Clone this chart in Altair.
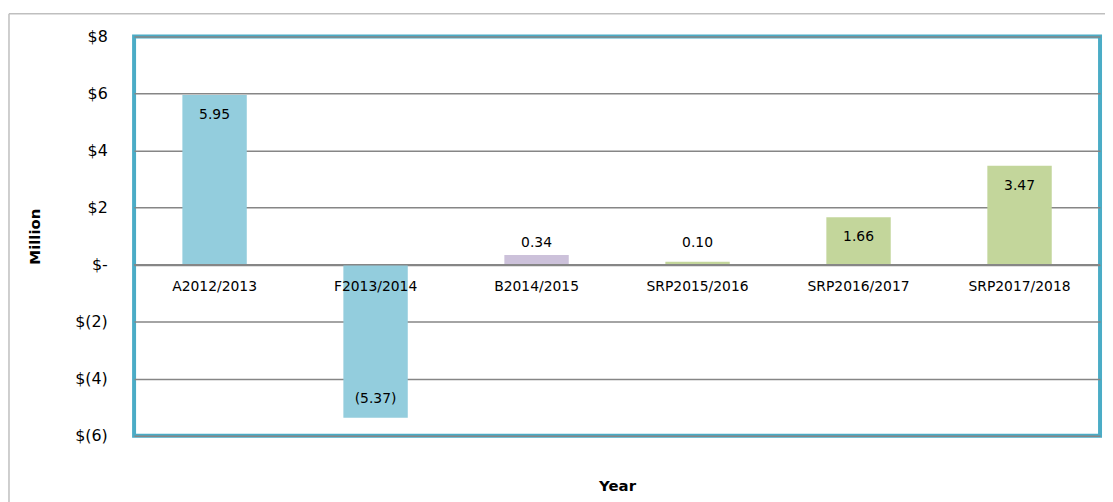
import altair as alt
import pandas as pd

categories = ["A2012/2013", "F2013/2014", "B2014/2015", "SRP2015/2016", "SRP2016/2017", "SRP2017/2018"]
values = [5.95, -5.37, 0.34, 0.10, 1.66, 3.47]
groups = ["Actual/Forecast", "Actual/Forecast", "Budget", "SRP", "SRP", "SRP"]
group_names = ["Actual/Forecast", "Budget", "SRP"]
group_colors = ["#93CDDD", "#CCC1DA", "#C3D69B"]
y_ticks = [-6, -4, -2, 0, 2, 4, 6, 8]

df = pd.DataFrame({"cat": categories, "v": values, "g": groups})

FONT = "DejaVu Sans"

x = alt.X("cat:N", sort=categories,
          scale=alt.Scale(paddingInner=0.6, paddingOuter=0.3),
          axis=alt.Axis(labels=False, ticks=False, domain=False, grid=False,
                        title="Year", titleFont=FONT, titleFontSize=15, titleFontWeight="bold",
                        titleColor="#000", titleY=50, titleBaseline="middle"))
y = alt.Y("v:Q", scale=alt.Scale(domain=[-6, 8], nice=False),
          axis=alt.Axis(values=y_ticks, ticks=False, domain=False, grid=True,
                        gridColor="#868686", gridWidth=1.5,
                        labelExpr="datum.value == 0 ? '$-' : (datum.value < 0 ? '$(' + (-datum.value) + ')' : '$' + datum.value)",
                        labelFont=FONT, labelFontSize=16, labelColor="#000", labelPadding=27,
                        title="Million", titleFont=FONT, titleFontSize=15, titleFontWeight="bold",
                        titleColor="#000", titleX=-100, titleY=201, titleAngle=-90,
                        titleBaseline="middle", titleAlign="center"))

base = alt.Chart(df)

bars = base.mark_bar().encode(
    x=x, y=y,
    color=alt.Color("g:N", scale=alt.Scale(domain=group_names, range=group_colors), legend=None),
)

label_expr = "datum.v < 0 ? '(' + format(-datum.v, '.2f') + ')' : format(datum.v, '.2f')"

big = base.transform_filter("datum.v >= 1").transform_calculate(lab=label_expr).mark_text(
    font=FONT, fontSize=14, color="#000", dy=20, baseline="middle"
).encode(x=alt.X("cat:N", sort=categories), y="v:Q", text="lab:N")

small = base.transform_filter("datum.v >= 0 && datum.v < 1").transform_calculate(lab=label_expr, zero="0").mark_text(
    font=FONT, fontSize=14, color="#000", dy=-22, baseline="middle"
).encode(x=alt.X("cat:N", sort=categories), y="zero:Q", text="lab:N")

neg = base.transform_filter("datum.v < 0").transform_calculate(lab=label_expr).mark_text(
    font=FONT, fontSize=14, color="#000", dy=-19, baseline="middle"
).encode(x=alt.X("cat:N", sort=categories), y="v:Q", text="lab:N")

cat_labels = base.transform_calculate(zero="0").mark_text(
    font=FONT, fontSize=14, color="#000", dy=23, baseline="middle"
).encode(x=alt.X("cat:N", sort=categories), y="zero:Q", text="cat:N")

zero_rule = alt.Chart(pd.DataFrame({"z": [0]})).mark_rule(color="#868686", strokeWidth=1.5).encode(y="z:Q")

outer_left = alt.Chart(pd.DataFrame({"a": [0]})).mark_rule(color="#BFBFBF", strokeWidth=1.5, clip=False).encode(
    x=alt.value(-126), y=alt.value(-23), y2=alt.value(480))
outer_top = alt.Chart(pd.DataFrame({"a": [0]})).mark_rule(color="#BFBFBF", strokeWidth=1.5, clip=False).encode(
    x=alt.value(-126), x2=alt.value(990), y=alt.value(-23))

chart = alt.layer(bars, zero_rule, big, small, neg, cat_labels, outer_left, outer_top).properties(
    width=973, height=402,
    autosize=alt.AutoSizeParams(type="none"),
    padding={"left": 127, "top": 27, "right": 5, "bottom": 65},
).configure(background="white").configure_view(stroke="#4BACC6", strokeWidth=4)

chart.save("out.html", embed_options={"renderer": "svg", "actions": False})
